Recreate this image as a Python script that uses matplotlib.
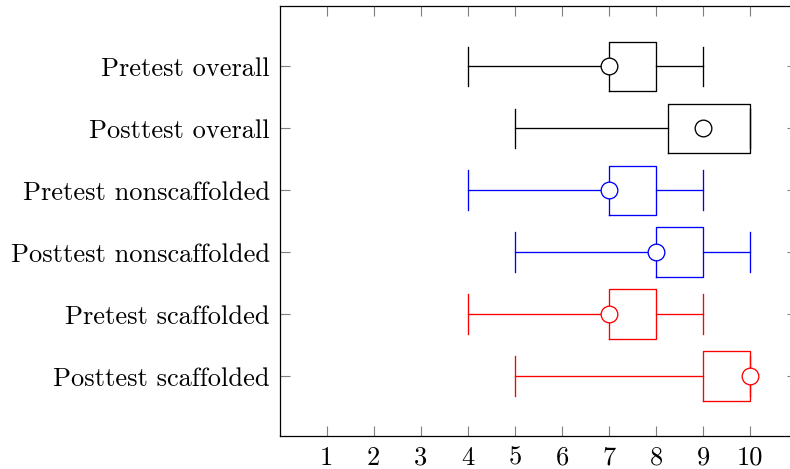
import matplotlib
matplotlib.use("Agg")
import matplotlib.pyplot as plt

# Score summaries per group (whisker low, Q1, circle marker, Q3, whisker high)
labels = [
    "Posttest scaffolded",
    "Pretest scaffolded",
    "Posttest nonscaffolded",
    "Pretest nonscaffolded",
    "Posttest overall",
    "Pretest overall",
]
whisker_low = [5, 4, 5, 4, 5, 4]
q1 = [9, 7, 8, 7, 8.25, 7]
centers = [10, 7, 8, 7, 9, 7]
q3 = [10, 8, 9, 8, 10, 8]
whisker_high = [10, 9, 10, 9, 10, 9]
colors = ["red", "red", "blue", "blue", "black", "black"]
xticks = [1, 2, 3, 4, 5, 6, 7, 8, 9, 10]

plt.rcParams["font.family"] = ["cmr10", "DejaVu Serif"]
plt.rcParams["axes.formatter.use_mathtext"] = True

W, H = 790, 469
fig = plt.figure(figsize=(W / 100, H / 100), dpi=100)
left, right, bottom, top = 279.6, 797.4, 436.3, 6.3
ax = fig.add_axes([left / W, (H - bottom) / H, (right - left) / W, (bottom - top) / H])

positions = list(range(1, len(labels) + 1))
lw = 0.95
for i, pos in enumerate(positions):
    c = colors[i]
    stats = [dict(whislo=whisker_low[i], q1=q1[i], med=centers[i], q3=q3[i],
                  whishi=whisker_high[i], fliers=[])]
    ax.bxp(stats, positions=[pos], vert=False, widths=0.8,
           boxprops=dict(color=c, linewidth=lw),
           whiskerprops=dict(color=c, linewidth=lw),
           capprops=dict(color=c, linewidth=lw),
           medianprops=dict(linewidth=0),
           capwidths=0.64, showfliers=False, manage_ticks=False)
    ax.plot([centers[i]], [pos], "o", markersize=12, markerfacecolor="white",
            markeredgecolor=c, markeredgewidth=lw, zorder=5)

ax.set_xlim(0, 11)
ax.set_ylim(0.03, 6.97)
ax.set_xticks(xticks)
ax.set_xticklabels([str(v) for v in xticks])
ax.set_yticks(positions)
ax.set_yticklabels(labels)

ax.tick_params(axis="both", direction="in", length=7.5, width=0.8,
               color="#7f7f7f", labelsize=19, pad=7,
               top=True, right=True, labeltop=False, labelright=False)
for s in ax.spines.values():
    s.set_linewidth(0.9)
    s.set_color("black")

fig.savefig("out.png", dpi=100)
